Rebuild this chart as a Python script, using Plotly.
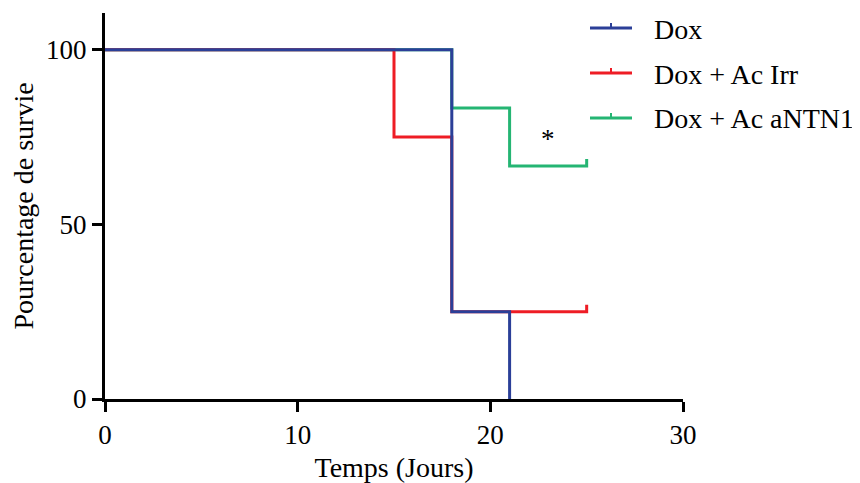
import plotly.graph_objects as go

# ---- data ----
series_names = ["Dox", "Dox + Ac Irr", "Dox + Ac aNTN1"]
dox_time = [0, 18, 21]
dox_surv = [100, 25, 0]
irr_time = [0, 15, 18, 25]
irr_surv = [100, 75, 25, 25]
ntn_time = [0, 18, 21, 25]
ntn_surv = [100, 83.33, 66.67, 66.67]
censored = [False, True, True]  # last point censored
x_ticks = [0, 10, 20, 30]
y_ticks = [0, 50, 100]
star_x, star_y = 23, 74.5

colors = ["#2B3F98", "#EE1C25", "#25B573"]
FONT = "Liberation Serif"
TICK_H = 2.0  # censor tick height in y units

# plot-area geometry (screen px; page body adds an 8px offset)
PX_L, PX_R, PX_T, PX_B = 105, 683, 13, 399
W, H = 860, 483
OFF = 8


def px(sx):
    return (sx - PX_L) / (PX_R - PX_L)


def py(sy):
    return (PX_B - sy) / (PX_B - PX_T)


fig = go.Figure()
data = [(dox_time, dox_surv), (irr_time, irr_surv), (ntn_time, ntn_surv)]
order = [2, 1, 0]  # draw blue on top
for i in order:
    t, s = list(data[i][0]), list(data[i][1])
    if censored[i]:
        t = t + [t[-1]]
        s = s + [s[-1] + TICK_H]
    fig.add_trace(go.Scatter(
        x=t, y=s, mode="lines", line=dict(shape="hv", color=colors[i], width=3),
        name=series_names[i], showlegend=False, cliponaxis=False,
    ))

# legend drawn as shapes + text
leg_rows = [28, 73, 118]
for i, name in enumerate(series_names):
    yy = py(leg_rows[i])
    fig.add_shape(type="line", xref="paper", yref="paper",
                  x0=px(590), x1=px(632), y0=yy, y1=yy,
                  line=dict(color=colors[i], width=3))
    fig.add_shape(type="line", xref="paper", yref="paper",
                  x0=px(611), x1=px(611), y0=yy, y1=py(leg_rows[i] - 5),
                  line=dict(color=colors[i], width=2))
    fig.add_annotation(xref="paper", yref="paper", x=px(652), y=py(leg_rows[i] + 1),
                       xanchor="left", yanchor="middle", text=name, showarrow=False,
                       font=dict(family=FONT, size=28, color="black"))

fig.add_annotation(x=star_x, y=star_y, text="*", showarrow=False,
                   font=dict(family=FONT, size=27, color="black"))

fig.update_layout(
    width=W, height=H,
    margin=dict(l=PX_L - OFF, r=W - (PX_R - OFF), t=PX_T - OFF, b=H - (PX_B - OFF),
                autoexpand=False),
    plot_bgcolor="white", paper_bgcolor="white",
    font=dict(family=FONT, size=27, color="black"),
    showlegend=False,
    xaxis=dict(range=[0, 30], tickvals=x_ticks, showline=True, linecolor="black",
               linewidth=3, ticks="outside", ticklen=10, tickwidth=3, tickcolor="black",
               showgrid=False, zeroline=False, automargin=False,
               title=dict(text="Temps (Jours)", font=dict(family=FONT, size=28), standoff=8),
               tickfont=dict(family=FONT, size=27)),
    yaxis=dict(range=[0, 110.5], tickvals=y_ticks, showline=True, linecolor="black",
               linewidth=3, ticks="outside", ticklen=10, tickwidth=3, tickcolor="black",
               showgrid=False, zeroline=False, automargin=False,
               title=dict(text="Pourcentage de survie", font=dict(family=FONT, size=28), standoff=6),
               tickfont=dict(family=FONT, size=27)),
)

fig.write_html("out.html")
